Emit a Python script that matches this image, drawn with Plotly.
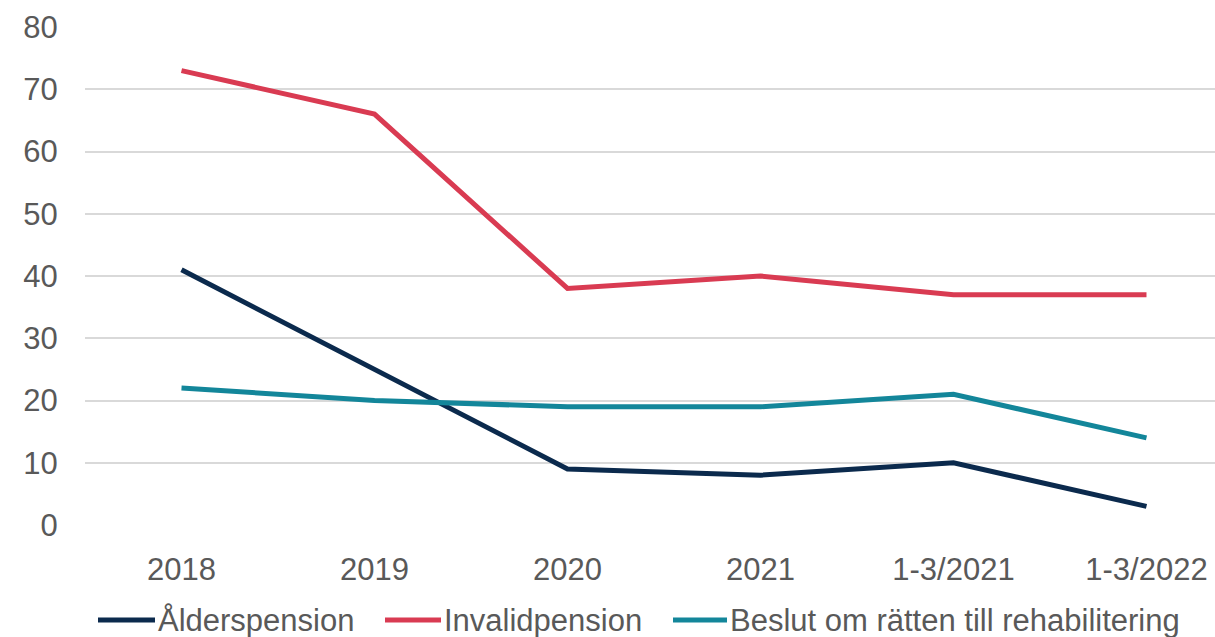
import plotly.graph_objects as go

# Kategorier och värden per serie
perioder = ["2018", "2019", "2020", "2021", "1-3/2021", "1-3/2022"]
alderspension = [41, 25, 9, 8, 10, 3]
invalidpension = [73, 66, 38, 40, 37, 37]
rehabilitering = [22, 20, 19, 19, 21, 14]

serier = [
    ("Ålderspension", alderspension, "#0b2a4d"),
    ("Invalidpension", invalidpension, "#d93b52"),
    ("Beslut om rätten till rehabilitering", rehabilitering, "#13869a"),
]

# Teckenförklaringens placering i pixlar (linjens start, slut och textens start)
legend_px = [(98, 155, 157), (385, 441, 443), (673, 727, 729)]
legend_y_px = 620

W, H = 1215, 637
ML, MR, MT, MB = 85, 0, 27, 112
plot_w = W - ML - MR
plot_h = H - MT - MB


def px_to_paper_x(px):
    return (px - ML) / plot_w


def px_to_paper_y(py):
    return (H - MB - py) / plot_h


grey = "#595959"
fsize = 31

fig = go.Figure()
for namn, varden, farg in serier:
    fig.add_trace(go.Scatter(
        x=list(range(len(perioder))),
        y=varden,
        mode="lines",
        name=namn,
        line=dict(color=farg, width=5),
        showlegend=False,
    ))

ly = px_to_paper_y(legend_y_px)
for (namn, _, farg), (x0, x1, xt) in zip(serier, legend_px):
    fig.add_shape(
        type="line", xref="paper", yref="paper",
        x0=px_to_paper_x(x0), x1=px_to_paper_x(x1), y0=ly, y1=ly,
        line=dict(color=farg, width=5),
    )
    fig.add_annotation(
        xref="paper", yref="paper",
        x=px_to_paper_x(xt), y=ly,
        xanchor="left", yanchor="middle",
        text=namn, showarrow=False,
        font=dict(size=fsize, color=grey),
        borderpad=0,
    )

fig.update_layout(
    width=W,
    height=H,
    margin=dict(l=ML, r=MR, t=MT, b=MB, autoexpand=False),
    plot_bgcolor="white",
    paper_bgcolor="white",
    font=dict(family="Liberation Sans, Arial, sans-serif", size=fsize, color=grey),
    showlegend=False,
    xaxis=dict(
        tickmode="array",
        tickvals=list(range(len(perioder))),
        ticktext=perioder,
        range=[-0.5, 5.355],
        showgrid=False,
        zeroline=False,
        showline=False,
        ticks="outside",
        ticklen=17,
        tickcolor="rgba(0,0,0,0)",
    ),
    yaxis=dict(
        range=[0, 80],
        dtick=10,
        showgrid=True,
        gridcolor="#d9d9d9",
        gridwidth=2,
        zeroline=False,
        showline=False,
        ticks="outside",
        ticklen=20,
        tickcolor="rgba(0,0,0,0)",
    ),
)

fig.write_html("out.html")
